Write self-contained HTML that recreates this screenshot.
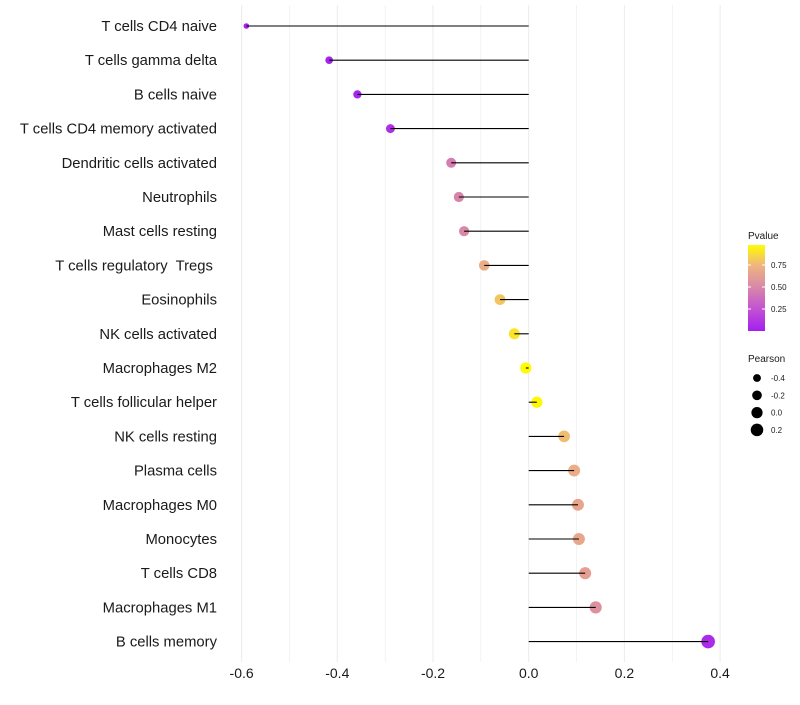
<!DOCTYPE html>
<html><head><meta charset="utf-8"><style>
body{margin:0;background:#fff;font-family:"Liberation Sans",sans-serif}
text{white-space:pre}
</style></head><body>
<svg id="c" width="800" height="700" xmlns="http://www.w3.org/2000/svg">
<defs><linearGradient id="pg" x1="0" y1="1" x2="0" y2="0">
<stop offset="0" stop-color="#a41ff0"/><stop offset="0.256" stop-color="#c352d2"/><stop offset="0.512" stop-color="#d988a8"/><stop offset="0.768" stop-color="#efb67d"/><stop offset="1" stop-color="#fffc00"/>
</linearGradient></defs>
</svg>
<script>
const categories=["T cells CD4 naive","T cells gamma delta","B cells naive","T cells CD4 memory activated","Dendritic cells activated","Neutrophils","Mast cells resting","T cells regulatory  Tregs ","Eosinophils","NK cells activated","Macrophages M2","T cells follicular helper","NK cells resting","Plasma cells","Macrophages M0","Monocytes","T cells CD8","Macrophages M1","B cells memory"];
const pearson=[-0.59,-0.417,-0.358,-0.289,-0.162,-0.146,-0.135,-0.093,-0.06,-0.03,-0.006,0.017,0.074,0.095,0.103,0.105,0.118,0.14,0.375];
const pvalue=[0.01,0.02,0.03,0.08,0.45,0.48,0.5,0.7,0.8,0.9,0.98,0.96,0.77,0.7,0.66,0.67,0.62,0.55,0.06];
const xTicks=[-0.6,-0.4,-0.2,0.0,0.2,0.4];
const xGrid=[-0.6,-0.5,-0.4,-0.3,-0.2,-0.1,0,0.1,0.2,0.3,0.4];
const pTicks=[0.25,0.5,0.75];
const sizeTicks=[-0.4,-0.2,0.0,0.2];
const NS="http://www.w3.org/2000/svg";
const svg=document.getElementById("c");
function x(v){return 528.7+v*478.5;}
function y(i){return 26+i*34.2;}
function r(v){return Math.sqrt(Math.max(3,31.5+v*40));}
function pcol(p){const st=[[0,[164,31,240]],[0.25,[195,82,210]],[0.5,[217,136,168]],[0.75,[239,182,125]],[0.977,[255,252,0]]];
 p=Math.min(0.977,Math.max(0,p));for(let k=1;k<st.length;k++){if(p<=st[k][0]){const a=st[k-1],b=st[k],t=(p-a[0])/(b[0]-a[0]);return "rgb("+a[1].map((c,j)=>Math.round(c+(b[1][j]-c)*t)).join(",")+")";}}return "rgb(255,252,0)";}
function el(t,a,txt){const e=document.createElementNS(NS,t);for(const k in a)e.setAttribute(k,a[k]);if(txt!=null)e.textContent=txt;svg.appendChild(e);return e;}
xGrid.forEach(v=>{const g=el("line",{x1:x(v),x2:x(v),y1:5,y2:662,stroke:"#ebebeb","stroke-width":Math.abs(v*10)%2<0.01?1:0.6});

});
xTicks.forEach(v=>{const t=el("text",{x:x(v),y:678,"text-anchor":"middle","font-size":14,fill:"#1a1a1a"},v.toFixed(1));

});
categories.forEach((c,i)=>{const t=el("text",{x:217,y:y(i)+5,"text-anchor":"end","font-size":14.8,fill:"#1a1a1a"},c);


const p=el("circle",{cx:x(pearson[i]),cy:y(i),r:r(pearson[i]),fill:pcol(pvalue[i])});


const l=el("line",{x1:x(0),x2:x(pearson[i]),y1:y(i),y2:y(i),stroke:"#000","stroke-width":1.1});

});
let t=el("text",{x:748,y:239,"font-size":10,fill:"#1a1a1a"},"Pvalue");


let b=el("rect",{x:748,y:245,width:17,height:86,fill:"url(#pg)"});


pTicks.forEach(v=>{const yy=331-v*88;el("line",{x1:748,x2:751,y1:yy,y2:yy,stroke:"#fff"});el("line",{x1:762,x2:765,y1:yy,y2:yy,stroke:"#fff"});
const tt=el("text",{x:771,y:yy+3,"font-size":8,fill:"#1a1a1a"},v.toFixed(2));

});
t=el("text",{x:748,y:362,"font-size":10,fill:"#1a1a1a"},"Pearson");


sizeTicks.forEach((v,k)=>{const yy=378+k*17.3;const c=el("circle",{cx:757,cy:yy,r:r(v),fill:"#000"});


const tt=el("text",{x:771,y:yy+3,"font-size":8,fill:"#1a1a1a"},v.toFixed(1));

});
</script>
</body></html>
